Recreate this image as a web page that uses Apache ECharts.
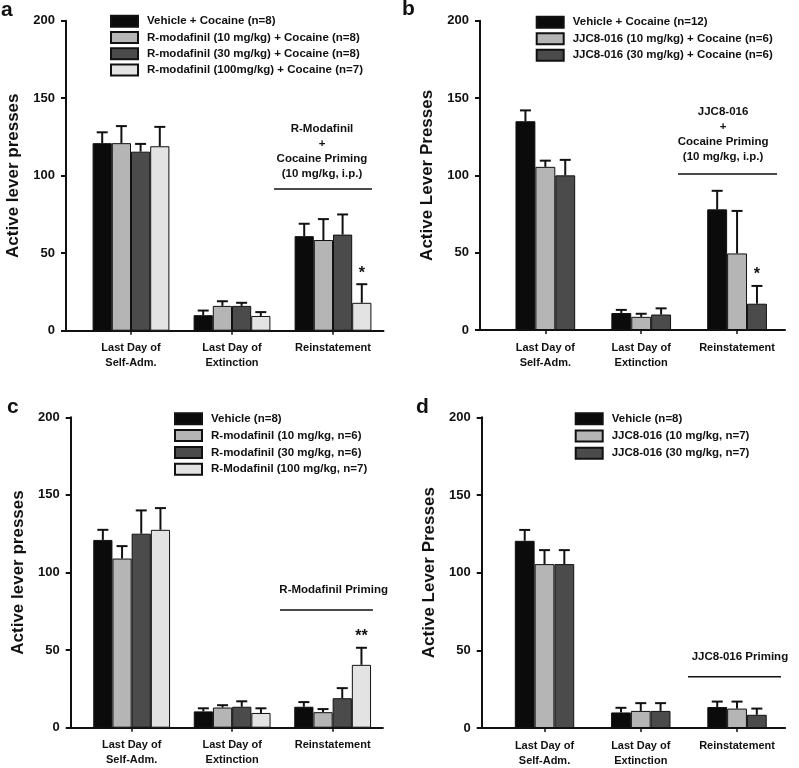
<!DOCTYPE html>
<html><head><meta charset="utf-8">
<script src="https://cdn.jsdelivr.net/npm/echarts@6/dist/echarts.min.js"></script>
<style>html,body{margin:0;padding:0;background:#fff}#chart{width:799px;height:768px}</style>
</head><body><div id="chart"></div>
<script>
// ---------------- DATA ----------------
const categories = ['Last Day of\nSelf-Adm.', 'Last Day of\nExtinction', 'Reinstatement'];
const yTickValues = [0, 50, 100, 150, 200];

// Panel a
const aNames = ['Vehicle + Cocaine (n=8)', 'R-modafinil (10 mg/kg) + Cocaine (n=8)', 'R-modafinil (30 mg/kg) + Cocaine (n=8)', 'R-modafinil (100mg/kg) + Cocaine (n=7)'];
const aMeans = [[121, 10, 61], [121, 16, 58.5], [115.5, 16, 62], [119, 9.5, 18]];
const aErrors = [[7, 3, 8], [11, 3, 13.5], [5, 2, 13], [12.5, 2.5, 12]];
const aStars = [[3, 2, '*']];
const aBracketLevel = 91.4;
const aBracketText = 'R-Modafinil\n+\nCocaine Priming\n(10 mg/kg, i.p.)';
const aYTitle = 'Active lever presses';

// Panel b
const bNames = ['Vehicle + Cocaine (n=12)', 'JJC8-016 (10 mg/kg) + Cocaine (n=6)', 'JJC8-016 (30 mg/kg) + Cocaine (n=6)'];
const bMeans = [[135, 11, 78], [105.5, 8.5, 49.5], [100, 10, 17]];
const bErrors = [[7, 2, 12], [4, 2, 27.5], [10, 4, 11.5]];
const bStars = [[2, 2, '*']];
const bBracketLevel = 100.9;
const bBracketText = 'JJC8-016\n+\nCocaine Priming\n(10 mg/kg, i.p.)';
const bYTitle = 'Active Lever Presses';

// Panel c
const cNames = ['Vehicle (n=8)', 'R-modafinil (10 mg/kg, n=6)', 'R-modafinil (30 mg/kg, n=6)', 'R-Modafinil (100 mg/kg, n=7)'];
const cMeans = [[121, 10.5, 13.5], [109, 13, 10], [125, 13.5, 19], [127.5, 9.5, 40.5]];
const cErrors = [[6.5, 2, 3], [8, 1.5, 2], [15, 3.5, 6.5], [14, 3, 11]];
const cStars = [[3, 2, '**']];
const cBracketLevel = 75.8;
const cBracketText = 'R-Modafinil Priming';
const cYTitle = 'Active lever presses';

// Panel d
const dNames = ['Vehicle (n=8)', 'JJC8-016 (10 mg/kg, n=7)', 'JJC8-016 (30 mg/kg, n=7)'];
const dMeans = [[120.5, 10, 13.5], [105.5, 11, 12.5], [105.5, 11, 8.5]];
const dErrors = [[7, 3, 3.5], [9, 5, 4.5], [9, 5, 4]];
const dStars = [];
const dBracketLevel = 33;
const dBracketText = 'JJC8-016 Priming';
const dYTitle = 'Active Lever Presses';

// ---------------- STYLE / LAYOUT ----------------
const colors4 = ['#0b0b0b', '#b5b5b5', '#4b4b4b', '#e3e3e3'];
const FONT = 'Liberation Sans, Arial, sans-serif';

const panels = [
  { letter: 'a', lx: 1, ly: 11, names: aNames, means: aMeans, errors: aErrors, stars: aStars, level: aBracketLevel, btext: aBracketText, ytitle: aYTitle,
    axisX: 66, top: 20.7, y0: 330.7, catLeft: 80.5, catWidth: 303, barW: 19.2, legLeft: 110, legTop: 14.7, legGap: 3.3,
    brFrom: -0.584, brTo: 0.386, brTextDx: -0.109, brTextGap: 8 },
  { letter: 'b', lx: 402, ly: 9.4, names: bNames, means: bMeans, errors: bErrors, stars: bStars, level: bBracketLevel, btext: bBracketText, ytitle: bYTitle,
    axisX: 480, top: 20.7, y0: 330, catLeft: 497.4, catWidth: 287.6, barW: 19.9, legLeft: 535.7, legTop: 15.7, legGap: 3.5,
    brFrom: -0.616, brTo: 0.417, brTextDx: -0.146, brTextGap: 10 },
  { letter: 'c', lx: 7, ly: 407.4, names: cNames, means: cMeans, errors: cErrors, stars: cStars, level: cBracketLevel, btext: cBracketText, ytitle: cYTitle,
    axisX: 70.7, top: 417.3, y0: 727.7, catLeft: 81.4, catWidth: 301.5, barW: 19.2, legLeft: 174, legTop: 412.3, legGap: 3.8,
    brFrom: -0.524, brTo: 0.401, brTextDx: 0.01, brTextGap: 13 },
  { letter: 'd', lx: 416, ly: 407.4, names: dNames, means: dMeans, errors: dErrors, stars: dStars, level: dBracketLevel, btext: dBracketText, ytitle: dYTitle,
    axisX: 481.7, top: 417.3, y0: 728, catLeft: 496.4, catWidth: 288.75, barW: 19.8, legLeft: 574.7, legTop: 412.3, legGap: 4.2,
    brFrom: -0.509, brTo: 0.457, brTextDx: 0.03, brTextGap: 13 }
];

const option = {
  animation: false,
  backgroundColor: '#fff',
  grid: [], xAxis: [], yAxis: [], series: [], legend: [], graphic: []
};

panels.forEach((p, k) => {
  const g = 2 * k;
  const h = p.y0 - p.top;
  const n = p.names.length;
  option.grid.push({ left: p.catLeft, top: p.top, width: p.catWidth, height: h, containLabel: false, outerBoundsMode: 'none' });
  option.grid.push({ left: p.axisX, top: p.top, width: p.catLeft + p.catWidth - p.axisX, height: h, containLabel: false, outerBoundsMode: 'none' });

  option.xAxis.push({
    type: 'category', gridIndex: g, data: categories,
    axisLine: { show: false },
    axisTick: { show: true, alignWithLabel: true, length: 4, lineStyle: { color: '#111', width: 1.5 } },
    axisLabel: { margin: 10, color: '#111', fontFamily: FONT, fontWeight: 'bold', fontSize: 11, lineHeight: 15, interval: 0 }
  });
  option.xAxis.push({
    type: 'value', gridIndex: g + 1, min: 0, max: 1,
    axisLine: { show: true, onZero: false, lineStyle: { color: '#111', width: 2 } },
    axisTick: { show: false }, axisLabel: { show: false }, splitLine: { show: false }
  });
  option.yAxis.push({
    type: 'value', gridIndex: g, min: 0, max: 200, interval: 50, offset: p.catLeft - p.axisX,
    name: p.ytitle, nameLocation: 'middle', nameGap: 44,
    nameTextStyle: { fontFamily: FONT, fontWeight: 'bold', fontSize: 17, color: '#111' },
    axisLine: { show: true, lineStyle: { color: '#111', width: 2 } },
    axisTick: { show: true, length: 5, lineStyle: { color: '#111', width: 2 } },
    axisLabel: { margin: 11, color: '#111', fontFamily: FONT, fontWeight: 'bold', fontSize: 13,
      customValues: yTickValues },
    splitLine: { show: false }
  });
  option.yAxis.push({ type: 'value', gridIndex: g + 1, min: 0, max: 200, show: false });

  p.names.forEach((name, s) => {
    option.series.push({
      type: 'bar', name: name, xAxisIndex: g, yAxisIndex: g,
      data: p.means[s], barWidth: p.barW, barGap: '0%',
      itemStyle: { color: colors4[s], borderColor: '#111', borderWidth: 1 },
      emphasis: { disabled: true }
    });
  });

  // error bars
  const errData = [];
  p.names.forEach((name, s) => {
    p.means[s].forEach((m, c) => errData.push([c, m, p.errors[s][c], s]));
  });
  option.series.push({
    type: 'custom', xAxisIndex: g, yAxisIndex: g, z: 5, silent: true,
    data: errData, encode: { x: 0, y: 1 },
    renderItem: function (params, api) {
      const cat = api.value(0), mean = api.value(1), err = api.value(2), s = api.value(3);
      const base = api.coord([cat, mean]);
      const top = api.coord([cat, mean + err]);
      const x = base[0] + (s - (n - 1) / 2) * p.barW;
      const half = 5.5;
      return { type: 'group', children: [
        { type: 'line', shape: { x1: x, y1: base[1], x2: x, y2: top[1] }, style: { stroke: '#111', lineWidth: 2 } },
        { type: 'line', shape: { x1: x - half, y1: top[1], x2: x + half, y2: top[1] }, style: { stroke: '#111', lineWidth: 2 } }
      ] };
    }
  });

  // significance stars
  if (p.stars.length) {
    const starData = p.stars.map(st => [st[1], p.means[st[0]][st[1]] + p.errors[st[0]][st[1]], st[0], st[2]]);
    option.series.push({
      type: 'custom', xAxisIndex: g, yAxisIndex: g, z: 6, silent: true,
      data: starData, encode: { x: 0, y: 1 },
      renderItem: function (params, api) {
        const pt = api.coord([api.value(0), api.value(1)]);
        const x = pt[0] + (api.value(2) - (n - 1) / 2) * p.barW;
        const txt = starData[params.dataIndex][3];
        return { type: 'text', x: x, y: pt[1] - 11,
          style: { text: txt, fill: '#111', font: 'bold 16px ' + FONT, align: 'center', verticalAlign: 'middle', textAlign: 'center', textVerticalAlign: 'middle' } };
      }
    });
  }

  // bracket line + text
  option.series.push({
    type: 'custom', xAxisIndex: g, yAxisIndex: g, z: 6, silent: true,
    data: [[2, p.level]], encode: { x: 0, y: 1 },
    renderItem: function (params, api) {
      const pt = api.coord([api.value(0), api.value(1)]);
      const band = api.size([1, 0])[0];
      return { type: 'group', children: [
        { type: 'line', shape: { x1: pt[0] + p.brFrom * band, y1: pt[1], x2: pt[0] + p.brTo * band, y2: pt[1] }, style: { stroke: '#111', lineWidth: 1.6 } },
        { type: 'text', x: pt[0] + p.brTextDx * band, y: pt[1] - p.brTextGap,
          style: { text: p.btext, fill: '#111', font: 'bold 11.5px ' + FONT, lineHeight: 14.8,
            align: 'center', verticalAlign: 'bottom', textAlign: 'center', textVerticalAlign: 'bottom' } }
      ] };
    }
  });

  option.legend.push({
    data: p.names, orient: 'vertical', left: p.legLeft, top: p.legTop,
    itemWidth: 27, itemHeight: 11, itemGap: p.legGap, icon: 'rect', selectedMode: false,
    padding: 0,
    textStyle: { fontFamily: FONT, fontWeight: 'bold', fontSize: 11.5, color: '#111', lineHeight: 12, padding: [0, 0, 0, 4] }
  });

  option.graphic.push({
    type: 'text', left: p.lx, top: p.ly - 11,
    style: { text: p.letter, fill: '#111', font: 'bold 21px ' + FONT }
  });
});

const chart = echarts.init(document.getElementById('chart'), null, { renderer: 'canvas' });
chart.setOption(option);
</script>
</body></html>
